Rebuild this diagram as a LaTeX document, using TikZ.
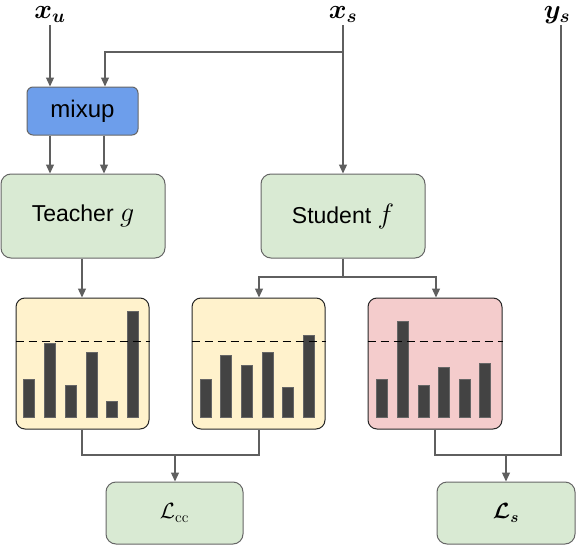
\RequirePackage{fix-cm}
\documentclass[tikz,border=0pt]{standalone}
\usepackage{amsmath,bm}
\usepackage[no-math]{fontspec}
\setmainfont{Liberation Sans}
\usetikzlibrary{arrows.meta}
\definecolor{linec}{HTML}{5F5F5F}
\definecolor{borderc}{HTML}{666666}
\definecolor{greenf}{HTML}{D9EAD3}
\definecolor{bluef}{HTML}{6D9EEB}
\definecolor{yellowf}{HTML}{FFF2CC}
\definecolor{redf}{HTML}{F4CCCC}
\definecolor{barc}{HTML}{434343}
\newcommand{\mybigmath}[1]{{\fontsize{28}{30}\selectfont$#1$}}
\tikzset{
  box/.style={draw=borderc, line width=1pt, rounded corners=10pt, fill=greenf,
    font=\fontsize{23}{27}\selectfont, inner sep=0pt},
  hist/.style={draw=black!85, line width=1pt, rounded corners=9pt, inner sep=0pt},
  lbl/.style={font=\fontsize{27}{30}\selectfont, inner sep=0pt, anchor=base},
  conn/.style={draw=linec, line width=1.3pt},
  arr/.style={conn, -{Triangle[length=9pt,width=8pt]}},
  bar/.style={fill=barc, draw=gray!80!black, line width=0.4pt},
  thresh/.style={draw=black, line width=1pt, dash pattern=on 8pt off 5pt}
}
\begin{document}
\begin{tikzpicture}[x=1pt,y=-1pt]
\useasboundingbox (0,0) rectangle (576,546);
% labels
\node[lbl] (xu) at (50,18) {$\bm{x}_{\bm{u}}$};
\node[lbl] (xs) at (343,18) {$\bm{x}_{\bm{s}}$};
\node[lbl] (ys) at (557,18) {$\bm{y}_{\bm{s}}$};
\coordinate (xuo) at (50,25);
\coordinate (xso) at (343,25);
\coordinate (yso) at (561,25);
% boxes
\node[box, fill=bluef, rounded corners=6pt, minimum width=111pt, minimum height=48pt, font=\fontsize{24}{28}\selectfont] (mixup) at (82.5,111) {mixup};
\node[box, minimum width=164pt, minimum height=84pt] (teacher) at (83,216) {Teacher \mybigmath{g}\hspace{14pt}};
\node[box, minimum width=164pt, minimum height=84pt] (student) at (343,216) {Student \mybigmath{f}\hspace{20pt}};
\node[hist, fill=yellowf, minimum width=133pt, minimum height=131pt] (h1) at (82.5,363.5) {};
\node[hist, fill=yellowf, minimum width=133pt, minimum height=131pt] (h2) at (258.5,363.5) {};
\node[hist, fill=redf, minimum width=134pt, minimum height=131pt] (h3) at (435,363.5) {};
\node[box, minimum width=137pt, minimum height=62pt, font=\fontsize{22}{26}\selectfont] (lcc) at (174.5,513) {$\mathcal{L}_{\mathrm{cc}}$};
\node[box, minimum width=138pt, minimum height=62pt, font=\fontsize{22}{26}\selectfont] (ls) at (506,513) {$\bm{\mathcal{L}}_{\bm{s}}$};
% bars
\foreach \a/\t in {23/379,44/343,65/385,86/352,106/401,127/311}
  \draw[bar] (\a,417) rectangle ++(11,\t-417);
\foreach \a/\t in {200/379,220/355,241/365,262/352,282/387,303/335}
  \draw[bar] (\a,417) rectangle ++(11,\t-417);
\foreach \a/\t in {376/379,397/321,418/385,438/367,459/379,479/363}
  \draw[bar] (\a,417) rectangle ++(11,\t-417);
% dashed thresholds
\draw[thresh] (h1.west |- 0,341) -- (h1.east |- 0,341);
\draw[thresh] (h2.west |- 0,341) -- (h2.east |- 0,341);
\draw[thresh] (h3.west |- 0,341) -- (h3.east |- 0,341);
% connectors
\coordinate (br1) at (343,52);
\coordinate (br2) at (105,52);
\coordinate (sb) at (343,277);
\coordinate (j1) at (175,455);
\coordinate (j2) at (506,455);
\draw[arr] (xuo) -- (xuo |- mixup.north);
\draw[arr] (xso) -- (xso |- student.north);
\draw[arr] (br1) -- (br2) -- (br2 |- mixup.north);
\draw[arr] (mixup.south -| 50,0) -- (teacher.north -| 50,0);
\draw[arr] (mixup.south -| 104,0) -- (teacher.north -| 104,0);
\draw[arr] (teacher.south -| 82,0) -- (h1.north -| 82,0);
\draw[conn] (student.south) -- (sb);
\draw[arr] (sb) -| (h2.north -| 259,0);
\draw[arr] (sb) -| (h3.north -| 436,0);
\draw[conn] (h1.south -| 82,0) |- (j1) -| (h2.south -| 259,0);
\draw[arr] (j1) -- (lcc.north -| j1);
\draw[conn] (h3.south -| 435,0) |- (j2) -| (yso);
\draw[arr] (j2) -- (ls.north -| j2);
\end{tikzpicture}
\end{document}
